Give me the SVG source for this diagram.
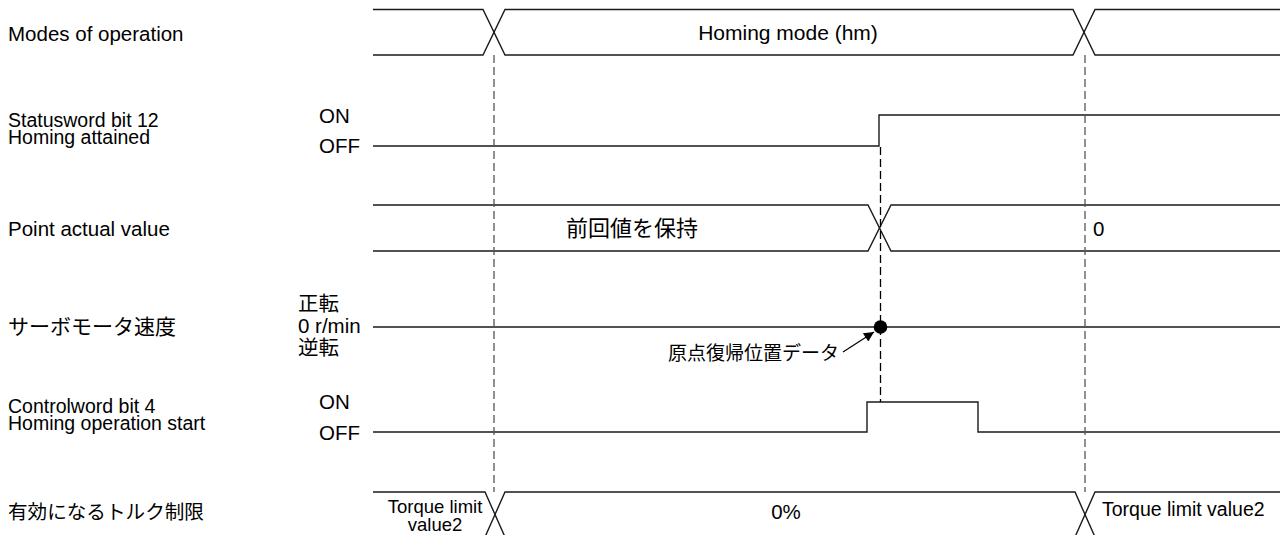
<svg xmlns="http://www.w3.org/2000/svg" width="1287" height="535" viewBox="0 0 1287 535">
<style>
text{font-family:"Liberation Sans","Noto Sans CJK JP",sans-serif;font-size:20.5px;fill:#000}
.sig{fill:none;stroke:#1a1a1a;stroke-width:1.4}
.dash{fill:none;stroke:#555;stroke-width:1.3;stroke-dasharray:8 4}
.dashk{fill:none;stroke:#000;stroke-width:1.3;stroke-dasharray:8 4}
.c{text-anchor:middle}
.two{font-size:19.5px}
</style>
<defs>
<marker id="ah" viewBox="0 0 10 10" refX="10" refY="5" markerWidth="14" markerHeight="10" markerUnits="userSpaceOnUse" orient="auto">
<path d="M0,0 L10,5 L0,10 z" fill="#000"/>
</marker>
</defs>
<g id="labels">
<text x="8" y="41">Modes of operation</text>
<text class="two" x="8" y="127">Statusword bit 12</text>
<text class="two" x="8" y="144">Homing attained</text>
<text x="8" y="236">Point actual value</text>
<text x="8" y="334" style="font-size:21px">サーボモータ速度</text>
<text class="two" x="8" y="413">Controlword bit 4</text>
<text class="two" x="8" y="430">Homing operation start</text>
<text x="8" y="519" style="font-size:19.6px">有効になるトルク制限</text>
</g>
<g id="modes">
<path class="sig" d="M373,9.5 H483 L505,55 H1073 L1095,9.5 H1280"/>
<path class="sig" d="M373,55 H483 L505,9.5 H1073 L1095,55 H1280"/>
<text class="c" x="788" y="40" style="font-size:21px">Homing mode (hm)</text>
</g>
<g id="statusword">
<text x="319" y="123">ON</text>
<text x="319" y="153">OFF</text>
<path class="sig" d="M373,146 H879 V115 H1280"/>
</g>
<g id="point">
<path class="sig" d="M373,205 H868 L891,251 H1280"/>
<path class="sig" d="M373,251 H868 L891,205 H1280"/>
<text class="c" x="632" y="236" style="font-size:22px">前回値を保持</text>
<text x="1093" y="236">0</text>
</g>
<g id="speed">
<text x="298" y="311">正転</text>
<text x="298" y="333">0 r/min</text>
<text x="298" y="355">逆転</text>
<path class="sig" d="M373,327 H1280"/>
<circle cx="880.5" cy="327" r="6.8" fill="#000"/>
<text x="668" y="360" style="font-size:19px">原点復帰位置データ</text>
</g>
<g id="controlword">
<text x="319" y="409">ON</text>
<text x="319" y="440">OFF</text>
<path class="sig" d="M373,432 H867 V402 H978 V432 H1280"/>
</g>
<g id="torque">
<path class="sig" d="M373,492 H485 L505,537"/>
<path class="sig" d="M485,537 L505,492 H1075 L1095,537"/>
<path class="sig" d="M1075,537 L1095,492 H1280"/>
<text class="c" x="435" y="513" style="font-size:18.5px">Torque limit</text>
<text class="c" x="435" y="531" style="font-size:18.5px">value2</text>
<text class="c" x="786" y="519">0%</text>
<text x="1102" y="516" style="font-size:19.5px">Torque limit value2</text>
</g>
<g id="connectors">
<path class="dash" d="M494,55 V492"/>
<path class="dash" d="M1085,55 V492"/>
<path class="dashk" d="M880.5,147 V402"/>
<path d="M843,352 L874,332" stroke="#000" stroke-width="1.2" fill="none" marker-end="url(#ah)"/>
</g>
</svg>
